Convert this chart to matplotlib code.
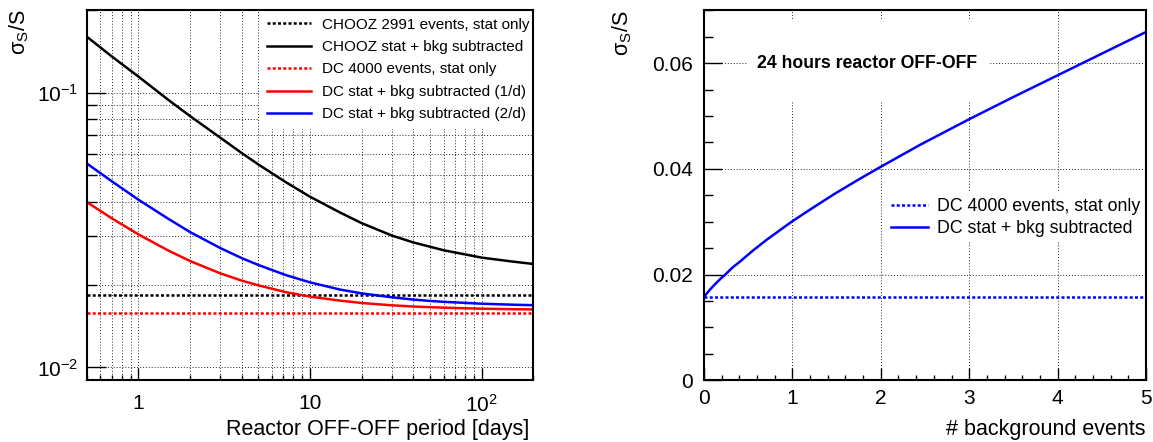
import numpy as np
import matplotlib
matplotlib.use("Agg")
import matplotlib.pyplot as plt
from matplotlib.ticker import FixedLocator, FixedFormatter, NullFormatter, MultipleLocator
from matplotlib.patches import Rectangle

plt.rcParams["font.family"] = ["Liberation Sans", "DejaVu Sans"]
plt.rcParams["mathtext.fontset"] = "custom"
plt.rcParams["mathtext.rm"] = "Liberation Sans"
plt.rcParams["mathtext.it"] = "Liberation Sans:italic"

# =============================================================================
# DATA
# =============================================================================

# left panel: sigma_S/S vs reactor OFF-OFF period [days]
days = [0.5, 0.7, 1, 1.5, 2, 3, 4, 5, 7.2, 10, 15, 20, 30, 40, 50, 60, 100, 150, 200]
chooz_bkg = [0.1600, 0.1355, 0.1145, 0.0940, 0.0822, 0.0686, 0.0603, 0.0548,
             0.0473, 0.0418, 0.0366, 0.0335, 0.0302, 0.0285, 0.0275, 0.0267,
             0.0251, 0.0243, 0.0238]
dc_bkg_1 = [0.0400, 0.0349, 0.0305, 0.0266, 0.0244, 0.0220, 0.0207, 0.0199,
            0.0188, 0.0181, 0.0175, 0.01716, 0.01683, 0.01666, 0.01657, 0.0165,
            0.01636, 0.01629, 0.01626]
dc_bkg_2 = [0.0553, 0.0476, 0.0408, 0.0347, 0.0311, 0.0272, 0.0250, 0.0236,
            0.0217, 0.0204, 0.0192, 0.0186, 0.0180, 0.01766, 0.01746, 0.01733,
            0.01706, 0.01692, 0.01685]
chooz_stat = 0.01828   # 2991 events
dc_stat = 0.0158       # 4000 events

# right panel: sigma_S/S vs number of background events (24 h OFF-OFF)
n_bkg = [0, 0.03, 0.07, 0.12, 0.18, 0.24, 0.32, 0.41, 0.55, 0.71, 0.85, 1,
         1.2, 1.47, 1.75, 2, 2.45, 3, 3.5, 4, 4.5, 5]
dc_vs_bkg = [0.0158, 0.0164, 0.0172, 0.0181, 0.0191, 0.0200, 0.0213, 0.0225,
             0.0245, 0.0266, 0.0283, 0.0301, 0.0323, 0.0352, 0.0380, 0.0404,
             0.0446, 0.0494, 0.0536, 0.0577, 0.0618, 0.0659]

left_labels = [
    "CHOOZ 2991 events, stat only",
    "CHOOZ stat + bkg subtracted",
    "DC 4000 events, stat only",
    "DC stat + bkg subtracted (1/d)",
    "DC stat + bkg subtracted (2/d)",
]
right_labels = ["DC 4000 events, stat only", "DC stat + bkg subtracted"]

# =============================================================================
# STYLE
# =============================================================================

LW = 1.8
DOT = (0, (1.2, 0.9))
GRID = dict(color="0.15", linestyle=(0, (1, 2)), linewidth=0.7)
TICK_FS = 15
LABEL_FS = 15.5

fig = plt.figure(figsize=(11.53, 4.42), dpi=100)
W, H = 1153.0, 442.0

ax1 = fig.add_axes([86.7 / W, 1 - 380 / H, 446.7 / W, 370 / H])
ax2 = fig.add_axes([704 / W, 1 - 380.3 / H, 442 / W, 370 / H])

for ax in (ax1, ax2):
    for sp in ax.spines.values():
        sp.set_linewidth(1.5)
    ax.set_axisbelow(True)

# -----------------------------------------------------------------------------
# Left panel
# -----------------------------------------------------------------------------
ax1.set_xscale("log")
ax1.set_yscale("log")

ax1.axhline(chooz_stat, color="black", lw=LW, ls=DOT, label=left_labels[0])
ax1.plot(days, chooz_bkg, color="black", lw=LW, label=left_labels[1])
ax1.axhline(dc_stat, color="red", lw=LW, ls=DOT, label=left_labels[2])
ax1.plot(days, dc_bkg_1, color="red", lw=LW, label=left_labels[3])
ax1.plot(days, dc_bkg_2, color="blue", lw=LW, label=left_labels[4])

ax1.set_xlim(0.5, 200)
ax1.set_ylim(0.009, 0.2)

ax1.xaxis.set_major_locator(FixedLocator([1, 10, 100]))
ax1.xaxis.set_major_formatter(FixedFormatter(["1", "10", r"$\mathregular{10^{2}}$"]))
x_minor = [m * 10.0 ** e for e in (-1, 0, 1, 2) for m in range(2, 10)]
ax1.xaxis.set_minor_locator(FixedLocator(x_minor))
ax1.xaxis.set_minor_formatter(NullFormatter())

ax1.yaxis.set_major_locator(FixedLocator([0.01, 0.1]))
ax1.yaxis.set_major_formatter(FixedFormatter([r"$\mathregular{10^{-2}}$",
                                              r"$\mathregular{10^{-1}}$"]))
ax1.yaxis.set_minor_locator(FixedLocator([m / 100.0 for m in range(2, 10)] + [0.2]))
ax1.yaxis.set_minor_formatter(NullFormatter())

ax1.grid(True, which="both", **GRID)

ax1.tick_params(which="both", direction="in", top=False, right=False,
                labelsize=TICK_FS)
ax1.tick_params(axis="x", which="major", length=8.6, width=1.0, pad=10)
ax1.tick_params(axis="x", which="minor", length=3.6, width=1.0)
ax1.tick_params(axis="y", which="major", length=14, width=1.0, pad=6)
ax1.tick_params(axis="y", which="minor", length=7, width=1.0)

ax1.set_xlabel("Reactor OFF-OFF period [days]", fontsize=LABEL_FS, loc="right")
ax1.xaxis.set_label_coords(0.99, -0.105)
ax1.set_ylabel(r"$\mathrm{\sigma_{S}/S}$", fontsize=LABEL_FS, loc="top")
ax1.yaxis.set_label_coords(-0.125, 1.0)

leg1 = ax1.legend(loc="upper left", bbox_to_anchor=(0.3857, 1.0),
                  fontsize=11, handlelength=2.9, handletextpad=0.75,
                  labelspacing=0.55, borderpad=0.5, borderaxespad=0,
                  frameon=True, fancybox=False)
leg1.get_frame().set_facecolor("white")
leg1.get_frame().set_edgecolor("none")
leg1.get_frame().set_alpha(1.0)
leg1.set_zorder(2.3)   # above grid and curves, below the frame spines

# -----------------------------------------------------------------------------
# Right panel
# -----------------------------------------------------------------------------
ax2.axhline(dc_stat, color="blue", lw=LW, ls=DOT, label=right_labels[0])
ax2.plot(n_bkg, dc_vs_bkg, color="blue", lw=LW, label=right_labels[1])

ax2.set_xlim(0, 5)
ax2.set_ylim(0, 0.07)

ax2.xaxis.set_major_locator(MultipleLocator(1))
ax2.xaxis.set_minor_locator(MultipleLocator(0.2))
ax2.yaxis.set_major_locator(FixedLocator([0, 0.02, 0.04, 0.06]))
ax2.yaxis.set_major_formatter(FixedFormatter(["0", "0.02", "0.04", "0.06"]))
ax2.yaxis.set_minor_locator(MultipleLocator(0.005))

ax2.grid(True, which="major", **GRID)

ax2.tick_params(which="both", direction="in", top=False, right=False,
                labelsize=TICK_FS)
ax2.tick_params(axis="x", which="major", length=8.6, width=1.0, pad=6)
ax2.tick_params(axis="x", which="minor", length=3.6, width=1.0)
ax2.tick_params(axis="y", which="major", length=13, width=1.0, pad=8)
ax2.tick_params(axis="y", which="minor", length=6.5, width=1.0)

ax2.set_xlabel("# background events", fontsize=LABEL_FS, loc="right")
ax2.xaxis.set_label_coords(1.0, -0.105)
ax2.set_ylabel(r"$\mathrm{\sigma_{S}/S}$", fontsize=LABEL_FS, loc="top")
ax2.yaxis.set_label_coords(-0.158, 1.0)

# white pave behind the label, like the ROOT TPaveText
ax2.add_patch(Rectangle((0.097, 0.753), 0.547, 0.221, transform=ax2.transAxes,
                        facecolor="white", edgecolor="none", zorder=1))
ax2.text(0.369, 0.857, "24 hours reactor OFF-OFF", transform=ax2.transAxes,
         ha="center", va="center", fontsize=12.7, fontweight="bold", zorder=3)

leg2 = ax2.legend(loc="upper left", bbox_to_anchor=(0.41, 0.506),
                  fontsize=12.8, handlelength=2.1, handletextpad=0.5,
                  labelspacing=0.25, borderpad=0.3, borderaxespad=0,
                  frameon=True, fancybox=False)
leg2.get_frame().set_facecolor("white")
leg2.get_frame().set_edgecolor("none")
leg2.get_frame().set_alpha(1.0)
leg2.set_zorder(2.3)

fig.savefig("out.png", dpi=100)
